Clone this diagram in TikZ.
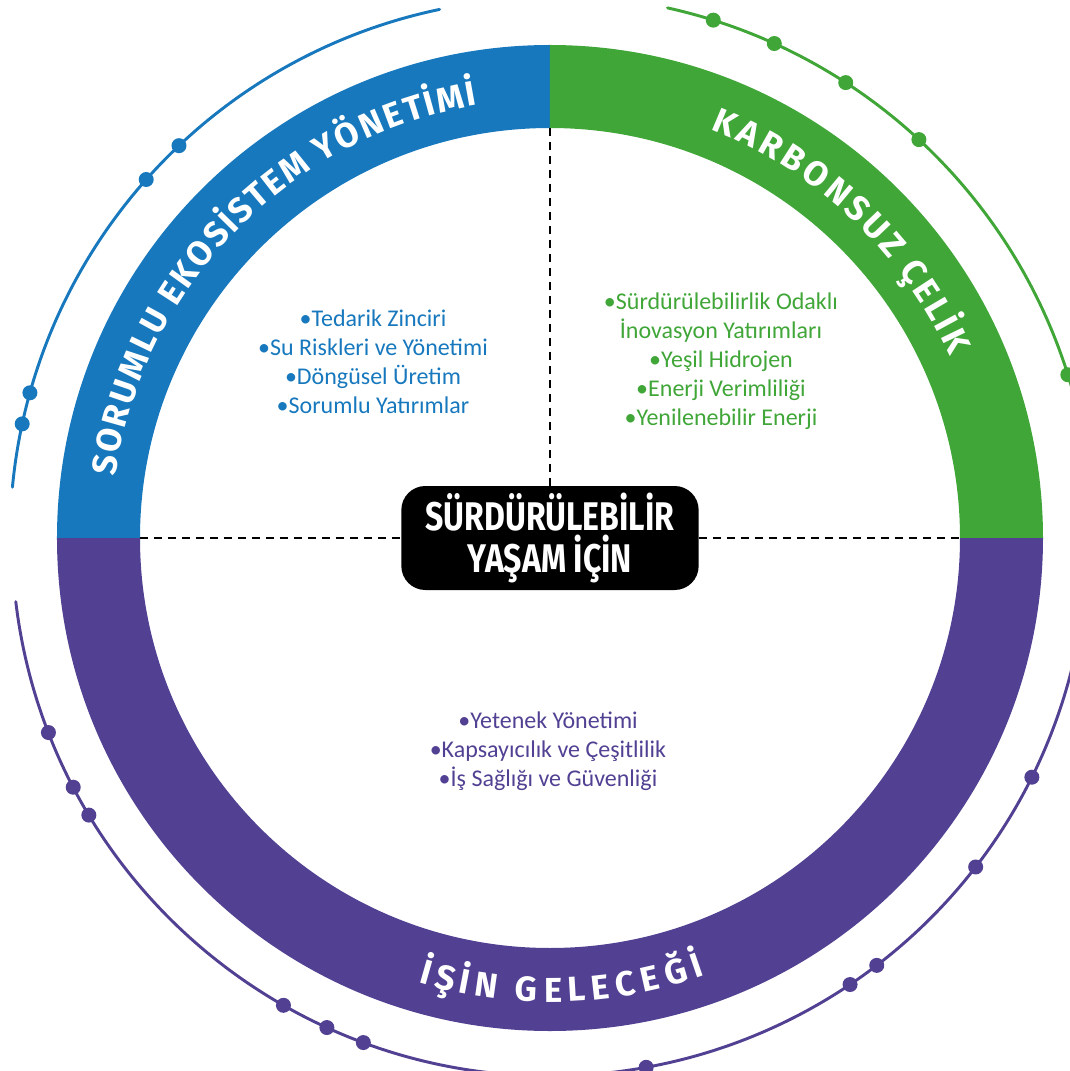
\documentclass[tikz,border=0pt]{standalone}
\usepackage{fontspec}
\setmainfont{Carlito}
\newfontfamily\ringfont{Fira Sans}
\newfontfamily\corefont{Fira Sans}[FakeStretch=0.8]
\usetikzlibrary{decorations.text}

\definecolor{ecoblue}{RGB}{23,120,189}
\definecolor{steelgreen}{RGB}{64,166,56}
\definecolor{workpurple}{RGB}{82,65,147}

\begin{document}
\begin{tikzpicture}[x=0.75pt, y=0.75pt,
    % Styles
    orbit/.style={line width=2.2pt, line cap=round},        % thin outer arc
    items/.style={font=\fontsize{18}{21.75}\selectfont, align=center},
    hub/.style={fill=black, rounded corners=18pt, text=white, align=center,
                minimum width=223pt, minimum height=78pt,
                font=\corefont\bfseries\fontsize{30}{31.5}\selectfont},
    guide/.style={line width=1.4pt, dash pattern=on 6pt off 4.5pt},
    ringtitle/.style={decorate, decoration={text effects along path, text={#1},
                text effects/.cd, fit text to path,
                characters={text along path, text=white,
                            font=\ringfont\bfseries\fontsize{26}{26}\selectfont}}}
]

  % Page frame (1070 x 1071, centre of ring at 550/538)
  \useasboundingbox (-550,-533) rectangle (520,538);

  % Ring quadrants
  \fill[ecoblue] (90:493) arc[start angle=90, end angle=180, radius=493]
    -- (180:410) arc[start angle=180, end angle=90, radius=410] -- cycle;
  \fill[steelgreen] (0:493) arc[start angle=0, end angle=90, radius=493]
    -- (90:410) arc[start angle=90, end angle=0, radius=410] -- cycle;
  \fill[workpurple] (180:493) arc[start angle=180, end angle=360, radius=493]
    -- (360:410) arc[start angle=360, end angle=180, radius=410] -- cycle;

  % Ring titles
  \path[ringtitle={SORUMLU EKOSİSTEM YÖNETİMİ}]
    (172:439) arc[start angle=172, end angle=99.5, radius=439];
  \path[ringtitle={KARBONSUZ ÇELİK}]
    (68.5:439) arc[start angle=68.5, end angle=24.5, radius=439];
  \path[ringtitle={İŞİN GELECEĞİ}]
    (253.5:464) arc[start angle=253.5, end angle=289.5, radius=464];

  % Outer arcs with beads
  \draw[orbit, ecoblue] (101.8:540) arc[start angle=101.8, end angle=174.6, radius=540];
  \foreach \a in {133.4, 138.4, 164.4, 167.8}
    \fill[ecoblue] (\a:540) circle (7.5);
  \draw[orbit, steelgreen] (77.5:543) arc[start angle=77.5, end angle=12, radius=543];
  \foreach \a in {72.5, 65.6, 57, 47.2, 17.5}
    \fill[steelgreen] (\a:543) circle (7.5);
  \draw[orbit, workpurple] (186.8:538) arc[start angle=186.8, end angle=346.2, radius=538];
  \foreach \a in {201.2, 207.6, 211, 240.3, 245.5, 249.7, 280.3, 303.9, 307.4, 322.3, 333.6}
    \fill[workpurple] (\a:538) circle (7.5);

  % Centre
  \node[hub] (hub) at (0,0) {SÜRDÜRÜLEBİLİR\\YAŞAM İÇİN};

  \coordinate (ringtop) at (90:410);
  \coordinate (ringleft) at (180:410);
  \coordinate (ringright) at (0:410);
  \draw[guide] (ringtop) -- (hub.north);
  \draw[guide] (ringleft) -- (hub.west);
  \draw[guide] (hub.east) -- (ringright);

  % Topics
  \node[items, text=ecoblue] (ecoitems) at (-177,176.5)
    {•Tedarik Zinciri\\•Su Riskleri ve Yönetimi\\•Döngüsel Üretim\\•Sorumlu Yatırımlar};
  \node[items, text=steelgreen] (steelitems) at (171,177)
    {•Sürdürülebilirlik Odaklı\\İnovasyon Yatırımları\\•Yeşil Hidrojen\\•Enerji Verimliliği\\•Yenilenebilir Enerji};
  \node[items, text=workpurple] (workitems) at (-2,-213)
    {•Yetenek Yönetimi\\•Kapsayıcılık ve Çeşitlilik\\•İş Sağlığı ve Güvenliği};

\end{tikzpicture}
\end{document}
